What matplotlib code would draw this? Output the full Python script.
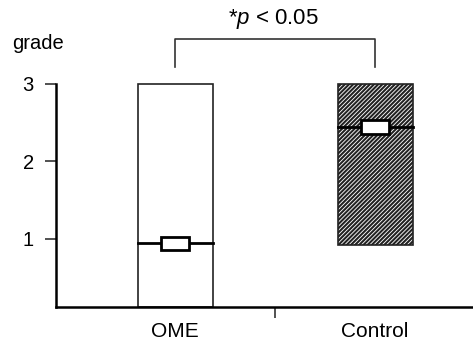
import matplotlib
matplotlib.use('Agg')
import matplotlib.pyplot as plt
from matplotlib.patches import Rectangle

plt.rcParams['font.family'] = ['Liberation Sans', 'DejaVu Sans']
plt.rcParams['mathtext.fontset'] = 'custom'
plt.rcParams['mathtext.it'] = 'Liberation Sans:italic'
plt.rcParams['mathtext.rm'] = 'Liberation Sans'
plt.rcParams['hatch.linewidth'] = 1.5

# data
groups = ['OME', 'Control']
box_low = [0.12, 0.92]
box_high = [3.0, 3.0]
medians = [0.94, 2.44]
hatches = ['', '////////']
sig_text = r'*$\mathit{p}$ < 0.05'

fig = plt.figure(figsize=(4.73, 3.43), dpi=100)
ax = fig.add_axes([56 / 473, 1 - 306.7 / 343, 1 - 56 / 473, 306.7 / 343])

pos = [1, 2]
width = 0.375
for x, lo, hi, med, h in zip(pos, box_low, box_high, medians, hatches):
    ax.add_patch(Rectangle((x - width / 2, lo), width, hi - lo, facecolor='white',
                           edgecolor='#222222', hatch=h, lw=1.2, zorder=2))
    ax.plot([x - width / 2, x + width / 2], [med, med], color='black', lw=2, zorder=3)
    ax.add_patch(Rectangle((x - 0.07, med - 0.085), 0.14, 0.17, facecolor='white',
                           edgecolor='black', lw=2, zorder=4))

# significance bracket
ax.plot([pos[0], pos[0], pos[1], pos[1]], [3.21, 3.58, 3.58, 3.21], color='#333333',
         lw=1.2, clip_on=False)
ax.text(1.49, 3.77, sig_text, ha='center', va='baseline', fontsize=16)

ax.set_xlim(0.405, 2.49)
ax.set_ylim(0.12, 4.08)
ax.set_yticks([1, 2, 3])
ax.set_yticklabels(['1', '2', '3'])
ax.set_xticks(pos)
ax.set_xticklabels(groups)
ax.set_xticks([1.5], minor=True)
ax.tick_params(axis='x', which='major', length=0, pad=11, labelsize=15)
ax.tick_params(axis='x', which='minor', length=8, width=1.2, color='#333333')
ax.tick_params(axis='y', length=8, width=1.2, pad=8, labelsize=14.5, color='#333333')

for s in ['top', 'right']:
    ax.spines[s].set_visible(False)
ax.spines['left'].set_linewidth(1.8)
ax.spines['bottom'].set_linewidth(1.8)
ax.spines['left'].set_bounds(0.12, 3.0)

fig.text(12 / 473, 1 - 49 / 343, 'grade', fontsize=14.5, ha='left', va='baseline')

fig.savefig('out.png', dpi=100)
